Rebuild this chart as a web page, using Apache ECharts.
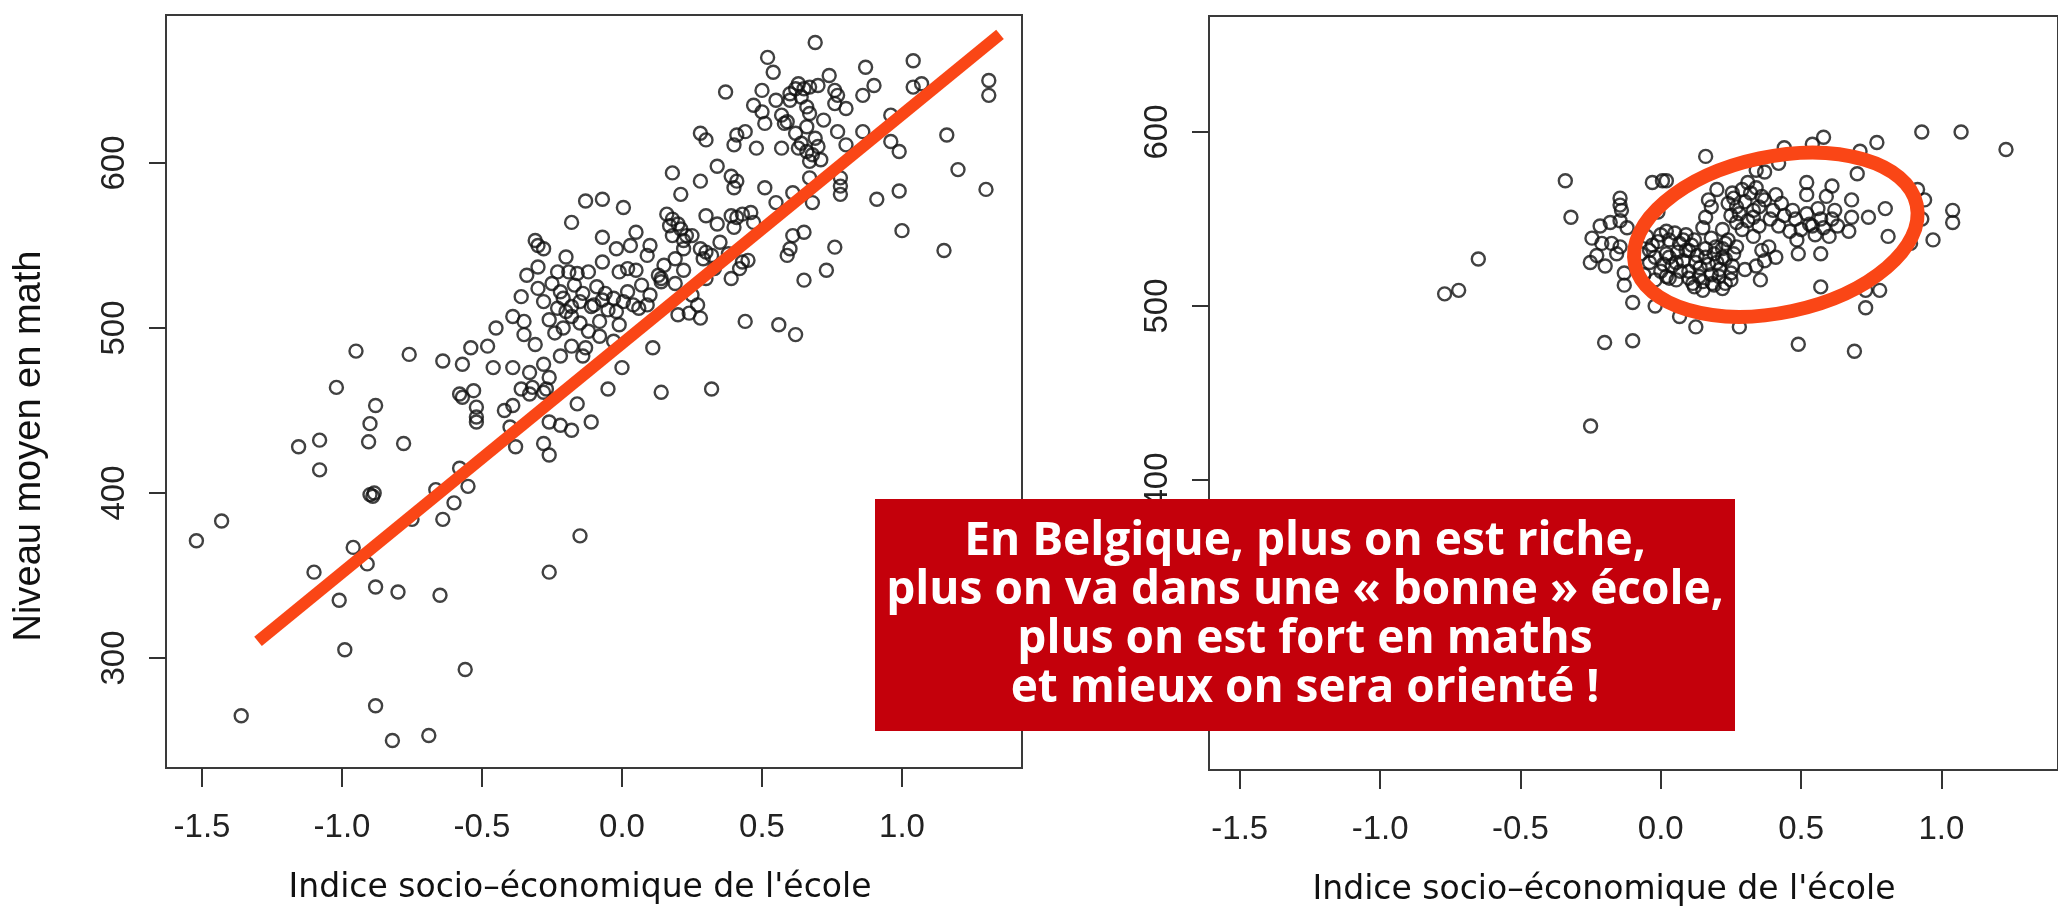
<!DOCTYPE html>
<html>
<head>
<meta charset="utf-8">
<style>
  html, body { margin: 0; padding: 0; background: #fff; }
  #main { width: 2058px; height: 907px; }
</style>
<script src="https://cdn.jsdelivr.net/npm/echarts@6/dist/echarts.min.js"></script>
</head>
<body>
<div id="main"></div>
<script>
// graduations des axes
const xTicks = [-1.5, -1.0, -0.5, 0.0, 0.5, 1.0];
const yTicks = [300, 400, 500, 600];

// écoles belges : [indice socio-économique, niveau moyen en math]
const belgiumPoints = [
  [-0.13,577],[-0.18,564],[-0.31,553],[-0.30,550],[-0.28,548],[-0.20,543],[-0.30,537],[-0.34,532],
  [-0.23,534],[-0.19,534],[-0.16,533],[-0.12,534],[-0.30,524],[-0.36,519],[-0.21,518],[-0.15,516],
  [-0.23,512],[-0.18,513],[-0.11,513],[-0.39,507],[-0.18,507],[-0.21,500],[-0.12,498],[-0.45,500],
  [-0.35,496],[-0.48,489],[-0.18,489],[-0.13,488],[-0.14,483],[-0.54,488],[-0.95,486],[-0.76,484],
  [-0.64,480],[-0.57,478],[-0.46,476],[-0.39,476],[-0.33,473],[-0.26,470],[-1.02,464],[-0.36,463],
  [-0.32,464],[-0.27,463],[-0.53,462],[-0.58,460],
  [-0.25,527],[-0.22,522],[-0.17,526],[-0.14,521],[-0.09,525],[-0.06,521],[-0.26,505],[-0.24,497],
  [-0.15,503],[-0.08,495],[-0.03,492],[-0.28,516],[-0.20,510],[0.02,522],[0.07,526],[0.10,520],
  [-0.35,504],[-0.31,490],[-0.22,483],[-0.28,478],
  [0.69,673],[0.52,664],[0.54,655],[0.74,653],[0.87,658],[1.04,662],[1.31,650],[1.31,641],
  [0.37,643],[0.50,644],[0.63,648],[0.62,645],[0.65,645],[0.67,646],[0.70,647],[0.60,642],
  [0.76,644],[0.77,641],[0.76,636],[0.80,633],[0.90,647],[0.86,641],[1.04,646],[1.07,648],
  [0.47,635],[0.50,631],[0.66,634],[0.57,629],[0.59,625],[0.58,624],[0.51,624],[0.66,622],
  [0.44,619],[0.41,617],[0.28,618],[0.30,614],[0.40,611],[0.48,609],[0.57,609],[0.77,619],
  [0.86,619],[0.96,629],[0.96,613],[0.99,607],[0.80,611],[1.16,617],[0.63,609],[0.66,607],
  [0.68,605],[0.70,610],[0.71,602],[0.67,601],[1.20,596],[1.30,584],[0.18,594],[0.34,598],
  [0.28,589],[0.39,592],[0.41,589],[0.40,585],[0.51,585],[0.21,581],[-0.07,578],[0.005,573],
  [0.67,591],[0.78,591],[0.78,586],[0.78,581],[0.61,582],[0.55,576],[0.68,576],[0.91,578],
  [0.99,583],[1.00,559],[1.15,547],
  [0.60,638],[0.64,640],[0.67,630],[0.55,638],[0.62,618],[0.69,615],[0.72,626],[0.64,612],
  [0.16,569],[0.18,566],[0.20,563],[0.17,562],[0.21,560],[0.23,556],[0.18,556],[0.22,553],
  [0.30,568],[0.05,558],[0.34,563],[0.39,568],[0.41,567],[0.43,569],[0.46,570],[0.47,564],
  [0.40,561],[0.61,556],[0.65,558],[0.59,544],[0.60,548],[0.76,549],
  [0.15,538],[0.22,548],[0.25,556],[0.35,552],[0.38,545],[0.10,550],[0.30,530],[0.33,536],
  [0.25,520],[0.22,535],
  [-0.07,555],[-0.02,548],[0.03,550],[0.09,544],[-0.07,540],[-0.01,534],[0.02,536],[0.05,535],
  [0.19,542],[0.28,548],[0.30,546],[0.29,542],[0.32,544],[0.43,540],[0.45,541],[0.42,536],
  [0.39,530],[0.13,532],[0.14,530],[0.14,528],[0.19,527],[0.65,529],[0.73,535],
  [-0.10,514],[-0.07,517],[-0.03,518],[0.005,516],[-0.05,511],[-0.02,510],[-0.08,504],[-0.01,502],
  [0.04,514],[0.06,512],[0.09,514],[0.20,508],[0.24,509],[0.28,506],[0.27,514],[0.44,504],
  [0.56,502],[0.62,496],[0.11,488],[0.00,476],[-0.05,463],[0.14,461],[0.32,463],
  [-0.88,453],[-0.90,442],[-0.905,431],[-0.78,430],[-1.155,428],[-1.08,432],[-1.08,414],
  [-0.57,458],[-0.52,452],[-0.52,446],[-0.52,443],[-0.42,450],[-0.39,453],[-0.40,440],[-0.38,428],
  [-0.33,460],[-0.28,461],[-0.26,443],[-0.22,441],[-0.18,438],[-0.16,454],[-0.11,443],[-0.28,430],
  [-0.26,423],[-0.90,399],[-0.89,398],[-0.885,400],
  [-0.58,415],[-0.665,402],[-0.55,404],[-0.60,394],[-0.64,384],[-0.75,384],
  [-1.43,383],[-1.52,371],[-0.96,367],[-0.91,357],[-1.10,352],[-0.88,343],[-0.80,340],[-1.01,335],
  [-0.65,338],[-0.15,374],[-0.26,352],[-0.99,305],[-0.56,293],[-1.36,265],[-0.88,271],[-0.82,250],
  [-0.69,253]
];

// droite de tendance (extrémités)
const fitLine = [[-1.30, 310], [1.35, 678]];

// autre pays : [indice socio-économique, niveau moyen en math]
const otherPoints = [
  [-0.65,527],[-0.77,507],[-0.72,509],[-0.34,572],[-0.32,551],[-0.25,431],[-0.20,479],[-0.10,480],
  [-0.145,562],[-0.145,558],[-0.14,555],[-0.216,546],[-0.18,548],[-0.245,539],[-0.21,536],[-0.175,536],
  [-0.228,529],[-0.251,525],[-0.198,523],[-0.157,530],[-0.145,534],[-0.145,549],[-0.12,545],
  [-0.13,519],[-0.13,512],[-0.10,502],[-0.02,500],[-0.03,571],[0.006,572],[-0.01,554],
  [-0.05,540],[-0.03,535],[0.0,541],[0.02,530],[-0.04,525],[0.0,520],[0.03,516],[-0.02,528],
  [-0.04,532],[-0.01,537],[0.01,524],[-0.06,518],[-0.02,515],[0.02,543],[-0.07,530],
  [0.93,600],[1.07,600],[1.23,590],[0.77,594],[0.58,597],[0.54,593],[0.44,591],[0.16,586],
  [0.71,589],[0.70,576],[0.02,572],[0.915,567],[0.94,561],[0.93,550],[1.04,555],[1.04,548],
  [0.97,538],[0.89,536],[0.80,556],[0.74,551],[0.81,540],
  [0.68,561],[0.68,551],[0.67,543],[0.61,569],[0.59,563],[0.52,571],[0.52,564],[0.57,550],
  [0.61,550],[0.63,546],[0.485,538],[0.49,530],[0.57,530],[0.54,546],[0.47,555],[0.43,559],
  [0.48,550],[0.50,544],[0.52,553],[0.55,541],[0.56,556],[0.58,545],[0.60,540],[0.62,555],
  [0.53,547],[0.46,543],[0.44,552],[0.42,546],[0.39,550],
  [0.41,564],[0.37,561],[0.40,555],[0.33,555],[0.29,567],[0.255,565],[0.27,557],[0.31,549],
  [0.35,546],[0.29,544],[0.33,540],[0.36,532],[0.385,534],[0.41,528],[0.37,526],[0.34,523],
  [0.30,521],[0.355,515],[0.34,578],[0.37,577],[0.42,582],
  [0.24,559],[0.26,562],[0.28,553],[0.30,560],[0.32,565],[0.33,551],[0.35,557],[0.36,563],
  [0.31,571],[0.27,548],[0.25,552],[0.34,568],
  [0.20,567],[0.17,561],[0.16,551],[0.18,557],[0.22,544],[0.196,534],[0.23,536],[0.22,528],
  [0.255,523],[0.208,517],[0.184,513],[0.23,513],[0.16,528],[0.125,525],[0.114,513],[0.137,517],
  [0.09,532],[0.067,536],[0.055,525],[0.03,528],[0.02,517],[0.055,515],
  [0.05,542],[0.08,538],[0.10,532],[0.12,538],[0.15,545],[0.10,520],[0.14,522],[0.18,518],
  [0.22,510],[0.25,515],[0.26,530],[0.24,538],[0.27,534],[0.20,525],[0.15,509],
  [0.03,538],[0.06,531],[0.08,526],[0.11,535],[0.13,529],[0.16,533],[0.17,524],[0.19,530],
  [0.21,521],[0.23,527],[0.07,520],[0.10,516],[0.12,511],[0.15,514],[0.19,512],[0.04,523],
  [0.09,541],[0.18,539],[0.22,533],[0.25,519],
  [0.067,494],[0.125,488],[0.28,488],[0.57,511],[0.49,478],[0.69,474],[0.73,509],[0.78,509],
  [0.73,499]
];

// ellipse qui entoure le nuage (centre en coordonnées des données)
const ellipseCenter = [[0.41, 541]];

const noteLines = [
  'En Belgique, plus on est riche,',
  'plus on va dans une « bonne » école,',
  'plus on est fort en maths',
  'et mieux on sera orienté !'
];

const xTitle = 'Indice socio\u2013économique de l\'école';
const yTitle = 'Niveau moyen en math';

const tickFont = 'Liberation Sans';
const accent = '#FA4616';

function xAxisFor(gridIndex, min, max) {
  return {
    type: 'value', gridIndex: gridIndex, min: min, max: max,
    splitLine: { show: false },
    axisLine: { show: false, onZero: false },
    axisTick: { show: true, inside: false, length: 19, customValues: xTicks,
      lineStyle: { color: '#333', width: 2 } },
    axisLabel: { customValues: xTicks, margin: 43, fontFamily: tickFont, fontSize: 33, color: '#222',
      formatter: function (v) { return v.toFixed(1); } }
  };
}

function yAxisFor(gridIndex, min, max) {
  return {
    type: 'value', gridIndex: gridIndex, min: min, max: max,
    splitLine: { show: false },
    axisLine: { show: false, onZero: false },
    axisTick: { show: true, inside: false, length: 17, customValues: yTicks,
      lineStyle: { color: '#333', width: 2 } },
    axisLabel: { customValues: yTicks, rotate: 90, margin: 35, fontFamily: tickFont, fontSize: 33, color: '#222' }
  };
}

function ringSeries(idx, data) {
  return {
    type: 'scatter', xAxisIndex: idx, yAxisIndex: idx, data: data,
    symbol: 'circle', symbolSize: 13, silent: true,
    itemStyle: { color: 'rgba(0,0,0,0)', borderColor: '#111', borderWidth: 2.4 },
    z: 2
  };
}

const chart = echarts.init(document.getElementById('main'));

chart.setOption({
  animation: false,
  backgroundColor: '#fff',
  grid: [
    { left: 166, top: 15, width: 856, height: 753, show: true, borderColor: '#3a3a3a', borderWidth: 2 },
    { left: 1209, top: 16, width: 856, height: 754, show: true, borderColor: '#3a3a3a', borderWidth: 2 }
  ],
  xAxis: [xAxisFor(0, -1.6286, 1.4286), xAxisFor(1, -1.6095, 1.4153)],
  yAxis: [yAxisFor(0, 233.3, 689.7), yAxisFor(1, 233.3, 666.7)],
  series: [
    ringSeries(0, belgiumPoints),
    {
      type: 'line', xAxisIndex: 0, yAxisIndex: 0, data: fitLine,
      symbol: 'none', silent: true, z: 5,
      lineStyle: { color: accent, width: 12, cap: 'butt' }
    },
    ringSeries(1, otherPoints),
    {
      type: 'custom', xAxisIndex: 1, yAxisIndex: 1, data: ellipseCenter, silent: true, z: 5,
      renderItem: function (params, api) {
        const p = api.coord([api.value(0), api.value(1)]);
        return {
          type: 'ellipse', x: p[0], y: p[1], rotation: 12 * Math.PI / 180,
          shape: { cx: 0, cy: 0, rx: 144, ry: 78 },
          style: { fill: 'none', stroke: accent, lineWidth: 14 }
        };
      }
    }
  ],
  graphic: [
    {
      type: 'text', x: 30, y: 446, rotation: Math.PI / 2,
      style: { text: yTitle, fill: '#111', font: '38px "Liberation Sans"',
        align: 'center', verticalAlign: 'middle', textAlign: 'center', textVerticalAlign: 'middle' }
    },
    {
      type: 'text', x: 580, y: 888,
      style: { text: xTitle, fill: '#111', font: '33px "DejaVu Sans"',
        align: 'center', verticalAlign: 'middle', textAlign: 'center', textVerticalAlign: 'middle' }
    },
    {
      type: 'text', x: 1604, y: 890,
      style: { text: xTitle, fill: '#111', font: '33px "DejaVu Sans"',
        align: 'center', verticalAlign: 'middle', textAlign: 'center', textVerticalAlign: 'middle' }
    },
    {
      type: 'rect', x: 875, y: 499, z: 100,
      shape: { width: 860, height: 232 },
      style: { fill: '#C4000B' }
    },
    {
      type: 'text', x: 1305, y: 615, z: 101,
      style: { text: noteLines.join('\n'), fill: '#fff', font: 'bold 46px "Open Sans"', lineHeight: 49,
        align: 'center', verticalAlign: 'middle', textAlign: 'center', textVerticalAlign: 'middle' }
    }
  ]
});
</script>
</body>
</html>
